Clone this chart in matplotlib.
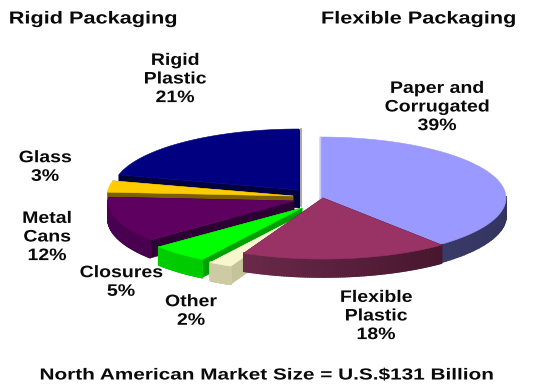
import numpy as np
import matplotlib
matplotlib.use("Agg")
import matplotlib.pyplot as plt
from matplotlib.colors import to_rgb
from matplotlib.patheffects import AbstractPathEffect
from matplotlib.transforms import Affine2D

plt.rcParams["font.family"] = ["Liberation Sans", "DejaVu Sans"]
plt.rcParams["font.weight"] = "bold"

# market shares, clockwise from twelve o'clock
segments = ["Paper and\nCorrugated", "Flexible\nPlastic", "Other", "Closures",
            "Metal\nCans", "Glass", "Rigid\nPlastic"]
shares = [39, 18, 2, 5, 12, 3, 21]

headings = ["Rigid Packaging", "Flexible Packaging"]
footer = "North American Market Size = U.S.$131 Billion"

top_colors = ["#9999ff", "#993366", "#f8f6cc", "#00ff00", "#5e0060", "#ffcc00", "#000080"]
rim_light = ["#5a5a94", "#7c3358", "#cfcea6", "#00d000", "#4a0050", "#b8a860", "#000050"]
rim_dark = ["#343460", "#3c1025", "#c4c39a", "#00b400", "#3c0044", "#b8a860", "#000050"]
cut_colors = ["#40406c", "#3c1025", "#c4c39a", "#00a000", "#2c0034", "#7a6000", "#000040"]

# apex of each exploded slice, in pixels
apex_x = [320, 323, 310, 302, 294, 293, 299]
apex_y = [198, 198, 211, 208, 201, 196, 190]

RX = 186
RY = 61
DEPTH = 18


class StretchX(AbstractPathEffect):
    # widens a text line about its own centre
    def __init__(self, factor):
        super().__init__()
        self.factor = factor

    def draw_path(self, renderer, gc, tpath, affine, rgbFace=None):
        cx = tpath.get_extents().x0 + tpath.get_extents().width / 2
        widen = Affine2D().translate(-cx, 0).scale(self.factor, 1).translate(cx, 0)
        renderer.draw_path(gc, tpath, widen + affine, rgbFace)


def label(x, y, s, size, stretch):
    ax.text(x, y, s, ha="center", va="center", fontsize=size, color="#0a0a0a",
            linespacing=1.3, path_effects=[StretchX(stretch)], zorder=30)


fig = plt.figure(figsize=(5.34, 3.85), dpi=100)
ax = fig.add_axes([0, 0, 1, 1])
ax.set_xlim(0, 534)
ax.set_ylim(385, 0)
ax.axis("off")

# clockwise angle boundaries of the slices
edges = 90 - np.cumsum([0] + shares) * 3.6

# back to front
draw_order = [0, 6, 5, 4, 3, 2, 1]
for z, i in enumerate(draw_order):
    cx, cy = apex_x[i], apex_y[i]
    a = np.radians(np.linspace(edges[i], edges[i + 1], 90))
    xs = cx + RX * np.cos(a)
    ys = cy - RY * np.sin(a)
    zz = z * 2 + 1

    # the two cut faces
    for k in (0, -1):
        ax.fill([cx, xs[k], xs[k], cx], [cy, ys[k], ys[k] + DEPTH, cy + DEPTH],
                color=cut_colors[i], lw=0.4, zorder=zz)

    # curved outer wall, darker towards the right
    c0 = np.array(to_rgb(rim_light[i]))
    c1 = np.array(to_rgb(rim_dark[i]))
    for j in range(len(a) - 1):
        if np.sin(a[j]) > 0.02 and np.sin(a[j + 1]) > 0.02:
            continue
        t = (np.cos(a[j]) + 1) / 2
        c = c0 + (c1 - c0) * t
        ax.fill([xs[j], xs[j + 1], xs[j + 1], xs[j]],
                [ys[j], ys[j + 1], ys[j + 1] + DEPTH, ys[j] + DEPTH],
                color=c, lw=1.2, zorder=zz)

    # top surface
    ax.fill(np.r_[cx, xs], np.r_[cy, ys], color=top_colors[i], lw=0.4, zorder=zz + 1)

# thin light edges on the upright faces at twelve o'clock
ax.plot([apex_x[6] + 1.5] * 2, [apex_y[6] - RY, apex_y[6] + DEPTH - 2], color="#999999", lw=1.2, zorder=20)
ax.plot([apex_x[0] - 0.5] * 2, [apex_y[0] - RY, apex_y[0]], color="#c8c8f4", lw=1.0, zorder=20)

label(93.5, 19, headings[0], 12.5, 1.25)
label(419, 19, headings[1], 12.5, 1.25)

label(175, 79, f"{segments[6]}\n{shares[6]}%", 12, 1.17)
label(437, 107, f"{segments[0]}\n{shares[0]}%", 12, 1.17)
label(45, 167, f"{segments[5]}\n{shares[5]}%", 12, 1.17)
label(47, 237, f"{segments[4]}\n{shares[4]}%", 12, 1.17)
label(121, 282, f"{segments[3]}\n{shares[3]}%", 12, 1.17)
label(191, 311, f"{segments[2]}\n{shares[2]}%", 12, 1.17)
label(376, 316, f"{segments[1]}\n{shares[1]}%", 12, 1.17)

label(268, 375, footer, 11.5, 1.3)

fig.savefig("out.png", dpi=100)
